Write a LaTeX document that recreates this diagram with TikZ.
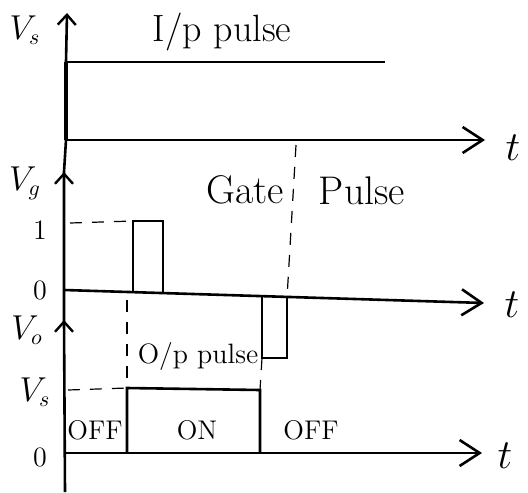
\documentclass[tikz,border=0pt]{standalone}
\usetikzlibrary{arrows.meta}
\begin{document}
\begin{tikzpicture}[x=0.5pt,y=-0.5pt,
  wave/.style={line width=1.3pt},
  haxis/.style={line width=1.3pt,-{Straight Barb[length=10pt,width=13pt,line width=1.3pt]}},
  vaxis/.style={line width=1.3pt,-{Straight Barb[length=5pt,width=9pt,line width=1.2pt]}},
  guide/.style={line width=0.6pt,dash pattern=on 6pt off 5pt},
  lbl/.style={inner sep=0pt,font=\fontsize{14}{16}\selectfont},
  vl/.style={inner sep=0pt,font=\fontsize{16}{18}\selectfont},
  big/.style={inner sep=0pt,font=\fontsize{19}{22}\selectfont},
  tlbl/.style={inner sep=0pt,font=\fontsize{21}{24}\selectfont},
  state/.style={inner sep=0pt,font=\fontsize{13.5}{16}\selectfont}]
\useasboundingbox (0,0) rectangle (528,492);
% axis coordinates
\coordinate (bot) at (65,492);
\coordinate (top) at (67,13);
\coordinate (gtop) at (64,172);
\coordinate (otop) at (64,320);
% vertical axis
\draw[line width=1.3pt] (bot) -- (64,320) -- (64,172) -- (66,140) -- (66,62);
\draw[vaxis] (66,62) -- (top);
\draw[vaxis] (64,190) -- (gtop);
\draw[vaxis] (64,338) -- (otop);
\draw[line width=2.2pt] (66,62) -- (66,140);
% --- input pulse ---
\coordinate (i0) at (66,140);
\coordinate (iend) at (485,140);
\coordinate (ih0) at (66,62);
\coordinate (ih1) at (385,62);
\draw[wave] (ih0) -- (ih1);
\draw[haxis] (i0) -- (iend);
\node[vl] (lvs) at (25,30) {$V_s$};
\node[big] (ip) at (222,32) {I/p pulse};
\node[tlbl] (t1) at (513,148) {$t$};
% --- gate pulse ---
\coordinate (g0) at (64,290);
\coordinate (gend) at (484,303);
\draw[haxis] (g0) -- (gend);
\coordinate (p1a) at (133,291);
\coordinate (p1b) at (133,221);
\coordinate (p1c) at (163,221);
\coordinate (p1d) at (163,292);
\draw[wave] (p1a) -- (p1b) -- (p1c) -- (p1d);
\coordinate (g1) at (70,223);
\draw[guide] (g1) -- (p1b);
\coordinate (n1a) at (262,297);
\coordinate (n1b) at (262,358);
\coordinate (n1c) at (287,358);
\coordinate (n1d) at (287,298);
\draw[wave] (n1a) -- (n1b) -- (n1c) -- (n1d);
\coordinate (dtop) at (296,145);
\draw[guide] (dtop) -- (n1d);
\node[vl] (lvg) at (25,183) {$V_g$};
\node[lbl] (l1) at (40,230) {1};
\node[lbl] (l0a) at (40,290) {0};
\node[big,font=\fontsize{20}{22}\selectfont] (gate) at (245,190) {Gate};
\node[big,font=\fontsize{20}{22}\selectfont] (pulse) at (362,191) {Pulse};
\node[tlbl] (t2) at (512,305) {$t$};
% --- output pulse ---
\coordinate (o0) at (64,453);
\coordinate (oend) at (482,453);
\draw[haxis] (o0) -- (oend);
\coordinate (q1) at (127,453);
\coordinate (q2) at (127,388);
\coordinate (q3) at (260,390);
\coordinate (q4) at (260,453);
\draw[wave] (q1) -- (q2) -- (q3) -- (q4);
\coordinate (o1) at (68,390);
\draw[guide] (o1) -- (q2);
\coordinate (dv1) at (127,300);
\draw[guide] (dv1) -- (q2);
\draw[guide] (n1b) -- (q3);
\node[vl] (lvo) at (27,330) {$V_o$};
\node[lbl] (op) at (198,356) {O/p pulse};
\node[vl] (lvs2) at (35,392) {$V_s$};
\node[state] (off1) at (95,430) {OFF};
\node[state] (on) at (197,430) {ON};
\node[state] (off2) at (311,430) {OFF};
\node[lbl] (l0b) at (40,457) {0};
\node[tlbl] (t3) at (505,456) {$t$};
\end{tikzpicture}
\end{document}
